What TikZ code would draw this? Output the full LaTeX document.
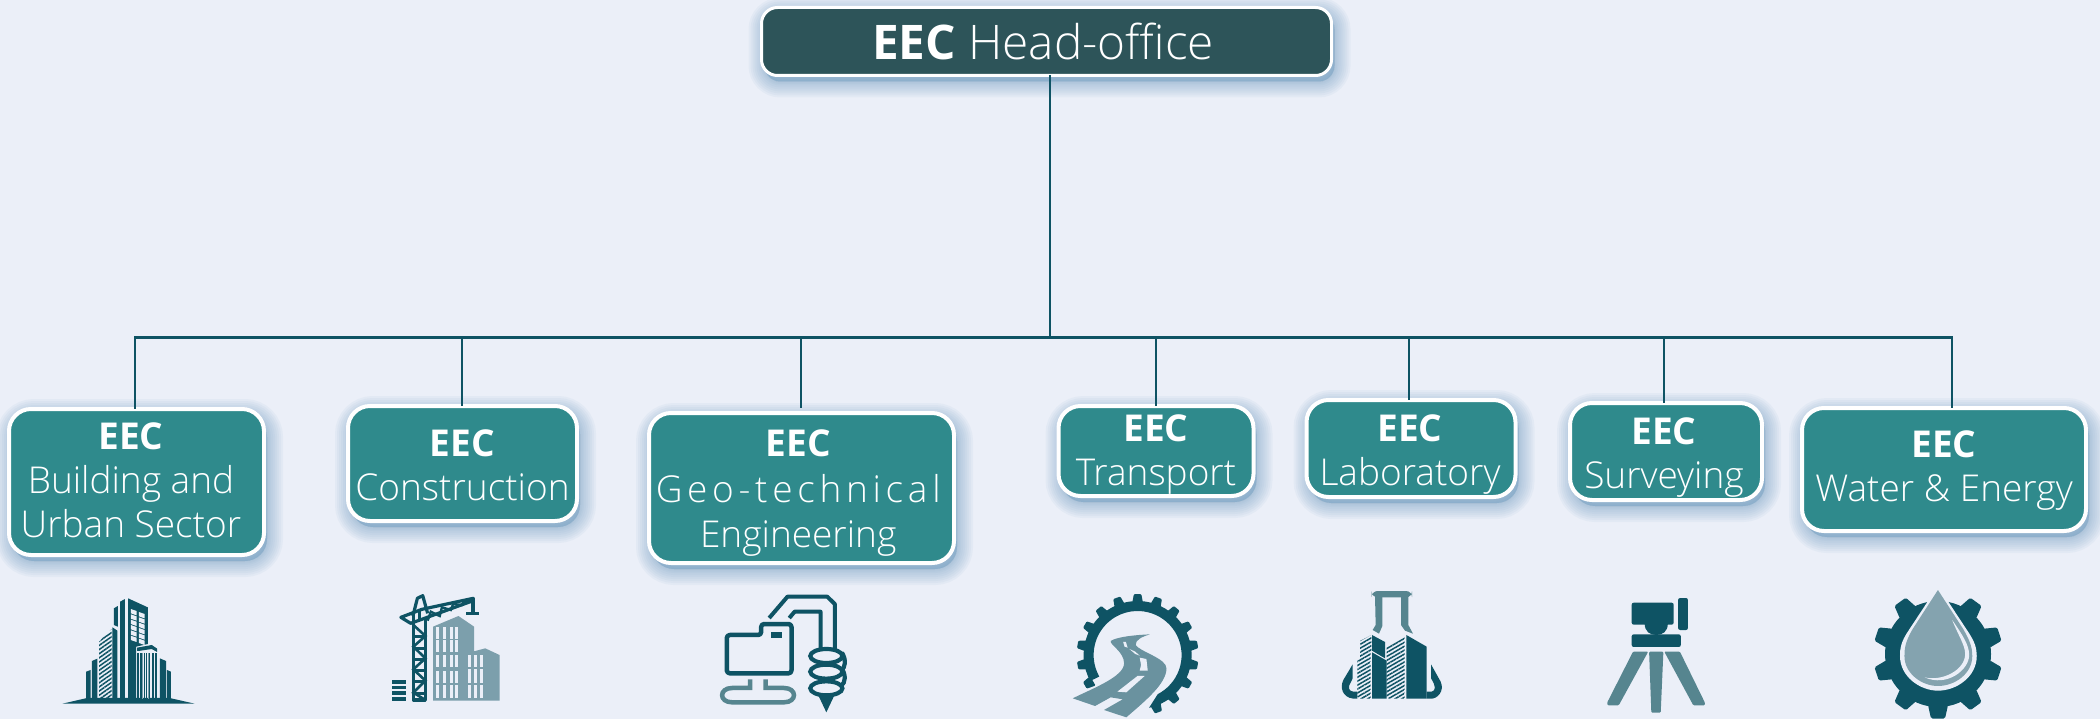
\documentclass[tikz,border=0pt]{standalone}
\usepackage{fontspec}
\setmainfont{Open Sans Light}
\newfontfamily\eecfont{Open Sans}
\usetikzlibrary{patterns.meta}
\definecolor{bgc}{HTML}{EBEFF8}
\definecolor{linec}{HTML}{0E5364}
\definecolor{unitc}{HTML}{2F8A8C}
\definecolor{headc}{HTML}{2D5459}
\definecolor{shc}{HTML}{6F9CC0}
\definecolor{iconl}{HTML}{7C9FAC}
\definecolor{iconm}{HTML}{56858F}
\definecolor{dropc}{HTML}{84A3AF}
\definecolor{roadc}{HTML}{6A929F}
\tikzset{
  shlayer/.style={preaction={draw=shc,fill=shc,opacity=.065,line width=#1,transform canvas={shift={(3,6)}}}},
  softshadow/.style={shlayer=32,shlayer=28,shlayer=24,shlayer=20,shlayer=16,shlayer=12,shlayer=8,shlayer=5,shlayer=2},
  unitbox/.style={softshadow,rectangle,rounded corners=22,draw=white,line width=4,fill=unitc,
    text=white,align=center,inner sep=0,outer sep=0,font=\fontsize{37}{44}\selectfont},
  headbox/.style={softshadow,rectangle,rounded corners=16,draw=white,line width=3,fill=headc,
    text=white,align=center,inner sep=0,outer sep=0,font=\fontsize{47.7}{58}\selectfont},
  conn/.style={draw=linec,line width=2.9},
  zA/.style={shift={(#1,580)},x=.4464pt,y=-.3333pt},
  zB/.style={shift={(#1,580)},x=.3333pt,y=-.3333pt},
  hatchfill/.style={pattern={Lines[angle=#1,distance=3.4pt,line width=1.5pt]},pattern color=linec},
}
\newcommand{\EEC}{{\eecfont\bfseries EEC}}
% \DN{d}: moves the text block of a box down by d px
\newcommand{\DN}[1]{\rule{0pt}{\dimexpr 26.4pt+#1pt*2\relax}}
% \LS{d}: at the end of a line, moves that line left by d/2 px
\newcommand{\LS}[1]{\rule{#1pt}{0pt}}
\begin{document}
\begin{tikzpicture}[x=1pt,y=-1pt]
\useasboundingbox (0,0) rectangle (2100,719);
\fill[bgc] (0,0) rectangle (2100,719);
% connectors anchors
\coordinate (busj) at (1050,337.5);
\coordinate (bus1) at (135,337.5);
\coordinate (bus2) at (462,337.5);
\coordinate (bus3) at (801,337.5);
\coordinate (bus4) at (1156,337.5);
\coordinate (bus5) at (1409,337.5);
\coordinate (bus6) at (1664,337.5);
\coordinate (bus7) at (1952,337.5);
% boxes
\node[headbox,minimum width=570,minimum height=68] (head) at (1046.5,41.5) {\EEC{} Head-office\LS{7}};
\node[unitbox,minimum width=255,minimum height=146] (b1) at (136.5,482) {\EEC\LS{11}\\Building and\LS{11}\\Urban Sector\LS{11}\rule[-3pt]{0pt}{1pt}};
\node[unitbox,minimum width=229,minimum height=115] (b2) at (462.5,463.5) {\DN{1.5}\EEC\\Construction};
\node[unitbox,minimum width=305,minimum height=150] (b3) at (801.5,488) {\DN{5.4}\EEC\LS{6.6}\\[1.5pt]{\addfontfeature{LetterSpace=12.7}Geo-technical}\LS{6.6}\\[1.5pt]Engineering\LS{6.6}};
\node[unitbox,minimum width=195,minimum height=90] (b4) at (1156,451) {\DN{4}\EEC\\Transport};
\node[unitbox,minimum width=209,minimum height=97] (b5) at (1411,448.5) {\DN{6.7}\EEC\LS{2}\\Laboratory\LS{2}};
\node[unitbox,minimum width=192,minimum height=97] (b6) at (1666,451.5) {\DN{6}\EEC\LS{4}\\Surveying\LS{4}};
\node[unitbox,minimum width=284,minimum height=123] (b7) at (1944,469.5) {\DN{1.3}\EEC\\Water \& Energy};
% connectors
\draw[conn] (head.south -| busj) -- (busj);
\draw[conn,line cap=rect] (bus1) -- (bus7);
\foreach \i in {1,2,4,5,6,7} \draw[conn] (bus\i) -- (b\i.north -| bus\i);
\draw[conn,shorten >=5] (bus3) -- (b3.north -| bus3);

% ---- icon 1: towers
\begin{scope}[zA=0]
\fill[linec] (140,371) -- (195,354) -- (380,354) -- (436,371) -- cycle;
\fill[linec] (193,275) -- (203,270) -- (203,356) -- (193,356) -- cycle;
\fill[linec] (206,243) -- (218,236) -- (218,356) -- (206,356) -- cycle;
\path[hatchfill=35] (222,185) -- (250,147) -- (250,354) -- (222,354) -- cycle;
\fill[linec] (252,142) -- (263,152) -- (263,356) -- (252,356) -- cycle;
\fill[linec] (255,85) -- (264,78) -- (264,140) -- (255,135) -- cycle;
\fill[linec] (269,65) -- (280,57) -- (280,356) -- (269,356) -- cycle;
\fill[linec] (287,55) -- (331,82) -- (331,192) -- (305,200) -- (305,356) -- (287,356) -- cycle;
\foreach \r in {0,...,5} {
  \fill[bgc] (293,{87+\r*16}) -- (306,{93+\r*16}) -- (306,{106+\r*16}) -- (293,{100+\r*16}) -- cycle;
  \fill[bgc] (311,{96+\r*16}) -- (324,{102+\r*16}) -- (324,{115+\r*16}) -- (311,{109+\r*16}) -- cycle;
}
\fill[linec] (307,203) -- (340,195) -- (352,206) -- (352,216) -- (340,207) -- (310,213) -- (307,213) -- cycle;
\foreach \x/\w in {308/3,314/4,322/2,328/1,334/3,341/3,347/5} \fill[linec] (\x,218) rectangle ({\x+\w},356);
\fill[iconl] (317,218) rectangle (321,356);
\fill[iconl] (331,218) rectangle (333,356);
\fill[linec] (358,235) -- (372,243) -- (372,356) -- (358,356) -- cycle;
\fill[linec] (374,270) -- (383,275) -- (383,356) -- (374,356) -- cycle;
\end{scope}

% ---- icon 2: crane
\begin{scope}[zA=0]
\fill[iconl] (970,140) -- (1027,108) -- (1062,140) -- (1062,214) -- (1087,205) -- (1119,225) -- (1119,362) -- (970,362) -- cycle;
\foreach \y/\h in {142/36,180/36,226/36,272/36,316/38} \foreach \x in {977,992,1007,1019}
  \fill[bgc] (\x,\y) rectangle ({\x+7},{\y+\h});
\foreach \y/\h in {226/34,266/42,316/38} \foreach \x in {1048,1062,1076}
  \fill[bgc] (\x,\y) rectangle ({\x+7},{\y+\h});
\draw[linec,line width=3.2,line join=round] (926,125) -- (926,360) -- (953,360) -- (953,118);
\draw[linec,line width=2.6] (926,135) -- (953,168) -- (926,200) -- (953,235) -- (926,268) -- (953,302) -- (926,338) -- (953,360);
\draw[linec,line width=2.6] (926,170) -- (953,170) (926,205) -- (953,205) (926,238) -- (953,238) (926,272) -- (953,272) (926,305) -- (953,305) (926,340) -- (953,340);
\draw[linec,line width=3.2,line join=round] (1060,55) -- (945,88) -- (898,112) -- (920,130) -- (1060,62) -- cycle;
\draw[linec,line width=3.2,line join=round] (925,108) -- (935,55) -- (947,47) -- (958,100);
\draw[linec,line width=2.4] (958,122) -- (965,95) -- (985,108) -- (990,82) -- (1010,90) -- (1015,72) -- (1035,75) -- (1040,62) -- (1060,60);
\draw[linec,line width=2.4] (926,102) -- (926,125) (940,92) -- (940,122);
\fill[linec] (1056,55) rectangle (1063,98);
\fill[linec] (1045,96) rectangle (1074,106);
\foreach \y/\h in {300/12,317/11,333/12,351/11} \fill[linec] (878,\y) rectangle (909,{\y+\h});
\end{scope}

% ---- icon 3: folder and auger
\begin{scope}[zA=700]
\draw[linec,line width=4.5,line join=round,rounded corners=3] (60,165) -- (137,165) -- (137,132) -- (205,132) -- (205,280) -- (60,280) -- cycle;
\fill[linec] (160,155) rectangle (184,173);
\draw[iconm,line width=4.5] (112,298) -- (112,324) -- (72,324) .. controls (42,324) and (42,367) .. (72,367) -- (188,367) .. controls (218,367) and (218,324) .. (188,324) -- (147,324) -- (147,298);
\draw[linec,line width=4,line join=round] (155,114) -- (196,50) -- (285,50) -- (302,72) -- (302,212);
\draw[linec,line width=4,line join=round] (200,114) -- (212,95) -- (270,95) -- (270,212);
\foreach \y in {228,275,325} \draw[linec,line width=4.2] (283,\y) ellipse [x radius=36,y radius=21];
\draw[linec,line width=4.2] (318,218) .. controls (328,240) and (326,262) .. (316,272);
\draw[linec,line width=4.2] (316,262) .. controls (328,285) and (326,308) .. (316,318);
\fill[linec] (265,346) -- (301,346) -- (283,397) -- cycle;
\end{scope}

% ---- icon 4: gear and road
\draw[linec,line width=10] ({1137.6+49*cos(-81)},{655-49*sin(-81)}) arc[start angle=81,end angle=-209,radius=49];
\foreach \a in {-70,-50,...,190,210} \fill[linec,rounded corners=1] ({1137.6+52*cos(\a-6)},{655-52*sin(\a-6)}) -- ({1137.6+61*cos(\a-3.5)},{655-61*sin(\a-3.5)}) -- ({1137.6+61*cos(\a+3.5)},{655-61*sin(\a+3.5)}) -- ({1137.6+52*cos(\a+6)},{655-52*sin(\a+6)}) -- cycle;
\begin{scope}[zA=700]
\fill[bgc] (835,355) -- (930,290) -- (1050,290) -- (1000,395) -- (955,415) -- cycle;
\fill[roadc] (1008,163) .. controls (975,165) and (935,170) .. (920,183) .. controls (918,195) and (950,215) .. (950,250) .. controls (950,290) and (880,325) .. (835,355) -- (885,378) -- (920,352) -- (947,358) -- (905,390) -- (955,412) .. controls (1000,360) and (1045,310) .. (1045,265) .. controls (1045,235) and (985,215) .. (976,195) .. controls (975,180) and (990,170) .. (1008,163) -- cycle;
\fill[bgc] (948,186) -- (954,186) -- (958,203) -- (951,200) -- cycle;
\fill[bgc] (962,207) -- (975,215) -- (985,227) -- (975,222) -- cycle;
\fill[bgc] (985,233) -- (1000,237) -- (1003,272) -- (985,272) -- (988,255) -- cycle;
\fill[bgc] (980,288) -- (996,288) -- (955,337) -- (935,335) -- cycle;
\end{scope}

% ---- icon 5: flask
\begin{scope}[zB=1330]
\fill[iconm,rounded corners=6] (125,33) rectangle (246,52);
\fill[iconm] (135,48) -- (157,48) -- (157,138) -- (147,161) -- (128,150) -- (137,135) -- cycle;
\fill[iconm] (213,48) -- (235,48) -- (235,135) -- (249,161) -- (225,152) -- (213,135) -- cycle;
\fill[linec] (68,253) -- (68,295) -- (57,318) .. controls (55,332) and (65,335) .. (70,335) -- (82,335) -- (82,356) -- (70,356) .. controls (35,352) and (30,320) .. (40,300) -- cycle;
\fill[linec] (303,253) -- (332,305) .. controls (345,335) and (320,356) .. (305,356) -- (290,356) -- (290,335) -- (305,335) .. controls (318,332) and (318,318) .. (303,295) -- cycle;
\path[hatchfill=30] (90,183) -- (124,165) -- (124,215) -- (90,235) -- cycle;
\path[hatchfill=30] (82,241) -- (122,218) -- (122,356) -- (90,356) -- (82,350) -- cycle;
\fill[linec] (126,165) -- (165,186) -- (165,235) -- (126,212) -- cycle;
\fill[linec] (126,217) -- (170,242) -- (170,356) -- (126,356) -- cycle;
\path[hatchfill=30] (170,200) -- (224,167) -- (224,356) -- (176,356) -- (170,350) -- cycle;
\fill[linec] (229,165) -- (290,200) -- (290,356) -- (229,356) -- cycle;
\end{scope}

% ---- icon 6: level on tripod
\begin{scope}[zA=1400]
\fill[linec,rounded corners=2] (519,68) rectangle (613,134);
\fill[linec,rounded corners=2] (623,54) rectangle (645,150);
\fill[linec] (548,130) .. controls (548,155) and (560,165) .. (574,165) .. controls (588,165) and (600,155) .. (600,130) -- cycle;
\fill[linec,rounded corners=2] (519,163) rectangle (629,201);
\fill[iconm,rounded corners=1] (522,215) -- (556,215) -- (490,376) -- (465,376) -- (464,368) -- cycle;
\fill[iconm,rounded corners=1] (558,215) -- (590,215) -- (584,398) -- (563,398) -- cycle;
\fill[iconm,rounded corners=1] (592,215) -- (627,215) -- (683,368) -- (683,376) -- (657,376) -- cycle;
\end{scope}

% ---- icon 7: gear and drop
\begin{scope}[shift={(1938,654)}]
\fill[linec] (0,0) circle [radius=53];
\foreach \a in {36,72,...,324} \fill[linec,rounded corners=1.5,rotate=\a] (-10,-51) -- (-7,-64.5) -- (7,-64.5) -- (10,-51) -- cycle;
\end{scope}
\begin{scope}[zA=1400]
\fill[bgc] (1205,18) -- (1140,150) .. controls (1122,185) and (1120,205) .. (1120,228) .. controls (1120,290) and (1165,332) .. (1205,332) .. controls (1247,332) and (1292,290) .. (1292,228) .. controls (1292,205) and (1288,185) .. (1270,150) -- cycle;
\fill[dropc] (1205,30) -- (1148,148) .. controls (1132,185) and (1130,205) .. (1130,228) .. controls (1130,282) and (1170,318) .. (1205,318) .. controls (1242,318) and (1282,282) .. (1282,228) .. controls (1282,205) and (1278,185) .. (1262,148) -- cycle;
\fill[bgc] (1237,120) .. controls (1260,165) and (1275,195) .. (1275,225) .. controls (1275,270) and (1225,322) .. (1175,292) .. controls (1215,305) and (1266,270) .. (1266,222) .. controls (1266,195) and (1250,165) .. (1237,120) -- cycle;
\end{scope}
\end{tikzpicture}
\end{document}
